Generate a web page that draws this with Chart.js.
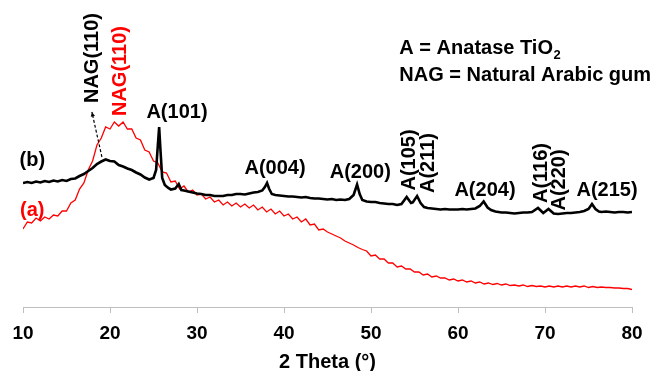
<!DOCTYPE html>
<html>
<head>
<meta charset="utf-8">
<script src="https://cdn.jsdelivr.net/npm/chart.js@4/dist/chart.umd.min.js"></script>
<style>
  body { margin: 0; background: #fff; }
  #wrap { width: 665px; height: 371px; position: relative; }
</style>
</head>
<body>
<div id="wrap"><canvas id="xrd-chart"></canvas></div>
<script>
// 2 Theta positions and intensities (a.u.)
// (b) NAG / TiO2 sample - black
const thetaB = [
  10, 10.5, 11, 11.5, 12, 12.5, 13, 13.5, 14, 14.5, 15, 15.5, 16, 16.5, 17, 17.5,
  18, 18.5, 19, 19.5, 20, 20.5, 21, 21.5, 22, 22.5, 23, 23.5, 24, 24.5, 25, 25.3,
  25.5, 25.65, 25.8, 26, 26.3, 26.7, 27, 27.5, 27.9, 28.2, 28.5, 29, 29.5, 30, 30.5,
  31, 31.5, 32, 32.5, 33, 33.5, 34, 34.5, 35, 35.5, 36, 36.5, 37, 37.5, 37.8, 38.05,
  38.3, 38.6, 39, 39.5, 40, 40.5, 41, 41.5, 42, 42.5, 43, 43.5, 44, 44.5, 45, 45.5,
  46, 46.5, 47, 47.5, 48, 48.4, 48.7, 49, 49.5, 50, 50.5, 51, 51.5, 52, 52.5, 53,
  53.5, 54.1, 54.6, 54.8, 55.3, 55.7, 56.1, 56.5, 57, 57.5, 58, 58.5, 59, 59.5, 60,
  60.5, 61, 61.5, 62, 62.5, 62.95, 63.4, 63.8, 64.3, 65, 65.5, 66, 66.5, 67, 67.5,
  68, 68.5, 69.2, 69.8, 70.4, 71, 71.5, 72, 72.5, 73, 73.5, 74, 74.5, 75, 75.4, 75.8,
  76.2, 76.5, 77, 77.5, 78, 78.5, 79, 79.5, 80
];
const intensityB = [
  124, 125, 124, 125.5, 124.5, 126, 125, 126.5, 125.5, 127, 126, 128, 128.5, 131, 133, 136,
  139, 143, 145.5, 147.5, 146, 145.5, 142, 140.5, 138.5, 137, 134.5, 132.5, 129.5, 127.5, 129, 137,
  162, 180, 157, 129, 122, 119, 117.5, 118.5, 123, 117, 116.5, 115.5, 114.5, 113.5, 113,
  112, 112, 111, 111, 111, 112, 112, 113, 113, 112.5, 113.5, 114.5, 115, 116.5, 120, 124,
  118, 113, 112, 111.5, 111, 110.5, 110.5, 110, 109.5, 110, 109, 108.5, 108.5, 108, 107.5, 108,
  107, 107.5, 107, 108, 112, 122.5, 113, 107, 105.5, 105, 105, 104, 103.5, 103, 103, 102,
  103, 110, 104, 104.5, 111, 104, 100, 99, 98.5, 98, 97.5, 98, 97.5, 97.5, 97.5,
  98, 97.5, 98, 98.5, 101, 105.5, 99.5, 97, 95.5, 94.5, 94.5, 94, 93.5, 94, 94.5,
  94.5, 95, 99, 94, 98, 93.5, 93, 93.5, 94, 94, 94.5, 95, 96, 98, 103, 98,
  95.5, 95, 95.5, 95, 94.5, 95, 95, 94.5, 95
];

// (a) natural Arabic gum - red
const thetaA = [
  10, 10.5, 11, 11.5, 12, 12.5, 13, 13.5, 14, 14.5, 15, 15.5, 16, 16.5, 17, 17.5,
  18, 18.5, 19, 19.5, 20, 20.5, 21, 21.5, 22, 22.5, 23, 23.5, 24, 24.5, 25, 25.5,
  26, 26.5, 27, 27.5, 28, 28.5, 29, 29.5, 30, 30.5, 31, 31.5, 32, 32.5, 33, 33.5,
  34, 34.5, 35, 35.5, 36, 36.5, 37, 37.5, 38, 38.5, 39, 39.5, 40, 40.5, 41, 41.5,
  42, 42.5, 43, 43.5, 44, 44.5, 45, 45.5, 46, 46.5, 47, 47.5, 48, 48.5, 49, 49.5,
  50, 50.5, 51, 51.5, 52, 52.5, 53, 53.5, 54, 54.5, 55, 55.5, 56, 56.5, 57, 57.5,
  58, 58.5, 59, 59.5, 60, 60.5, 61, 61.5, 62, 62.5, 63, 63.5, 64, 64.5, 65, 65.5,
  66, 66.5, 67, 67.5, 68, 68.5, 69, 69.5, 70, 70.5, 71, 71.5, 72, 72.5, 73, 73.5,
  74, 74.5, 75, 75.5, 76, 76.5, 77, 77.5, 78, 78.5, 79, 79.5, 80
];
const intensityA = [
  78, 85, 84, 89, 86, 90, 88, 92, 91, 96, 96, 104, 107, 118, 124, 137,
  146, 162, 169, 180, 178, 185, 181, 185, 178, 178, 169, 167, 157, 155, 146, 144,
  135, 134, 125, 126, 118, 121, 115, 117, 112, 113, 108, 110, 105, 107, 102, 105,
  101, 104, 100, 103, 99, 102, 97, 100, 95, 98, 93, 96, 91, 93, 88, 90,
  85, 88, 82, 83, 77, 78, 75, 73, 71, 69, 66, 64, 62, 59.5, 57.5, 56,
  51, 52, 48, 48, 44, 44, 40, 41, 38, 38, 35, 35, 32, 33, 30, 31,
  29, 29, 27, 28, 26, 27, 25, 26, 24, 25, 23, 24, 22.5, 23.5, 22, 23,
  21.5, 22, 21, 22, 20.5, 21.5, 20.5, 21, 20, 21, 20, 21, 20, 21, 20, 21,
  20, 21, 19.5, 20.5, 19.5, 20, 19.5, 19.5, 19, 19, 18.5, 18.5, 17.5
];

const xTicks = [10, 20, 30, 40, 50, 60, 70, 80];

// Peak labels: [text, 2theta, intensity, rotated, colour]
const peakLabels = [
  ["(b)", 11.07, 147, false, "#000"],
  ["(a)", 11.07, 97, false, "#ff0000"],
  ["A(101)", 27.7, 195, false, "#000"],
  ["A(004)", 38.97, 139, false, "#000"],
  ["A(200)", 48.77, 135, false, "#000"],
  ["A(105)", 54.28, 147, true, "#000"],
  ["A(211)", 56.52, 144, true, "#000"],
  ["A(204)", 63.1, 117, false, "#000"],
  ["A(116)", 69.47, 134, true, "#000"],
  ["A(220)", 71.54, 127, true, "#000"],
  ["A(215)", 77.13, 117, false, "#000"],
  ["NAG(110)", 17.83, 249, true, "#000"],
  ["NAG(110)", 21.07, 236, true, "#ff0000"]
];

// Plugin to draw the peak labels, the key text and the dashed arrow
const labelPlugin = {
  id: "labelPlugin",
  afterDatasetsDraw(chart) {
    const ctx = chart.ctx;
    const xs = chart.scales.x;
    const ys = chart.scales.y;
    ctx.save();
    ctx.font = "bold 20px 'Liberation Sans', Arial, sans-serif";
    ctx.textAlign = "center";
    ctx.textBaseline = "middle";
    peakLabels.forEach(function(lbl) {
      const px = xs.getPixelForValue(lbl[1]);
      const py = ys.getPixelForValue(lbl[2]);
      ctx.fillStyle = lbl[4];
      if (lbl[3]) {
        ctx.save();
        ctx.translate(px, py);
        ctx.rotate(-Math.PI / 2);
        ctx.fillText(lbl[0], 0, 1);
        ctx.restore();
      } else {
        ctx.fillText(lbl[0], px, py);
      }
    });

    // dashed arrow from the black hump up to its NAG(110) label
    const x1 = xs.getPixelForValue(19.07), y1 = ys.getPixelForValue(150);
    const x2 = xs.getPixelForValue(17.92), y2 = ys.getPixelForValue(195);
    ctx.strokeStyle = "#000";
    ctx.lineWidth = 1.2;
    ctx.setLineDash([3, 2]);
    ctx.beginPath();
    ctx.moveTo(x1, y1);
    ctx.lineTo(x2, y2);
    ctx.stroke();
    ctx.setLineDash([]);
    const ang = Math.atan2(y2 - y1, x2 - x1);
    ctx.fillStyle = "#000";
    ctx.beginPath();
    ctx.moveTo(x2, y2);
    ctx.lineTo(x2 - 5 * Math.cos(ang - 0.45), y2 - 5 * Math.sin(ang - 0.45));
    ctx.lineTo(x2 - 5 * Math.cos(ang + 0.45), y2 - 5 * Math.sin(ang + 0.45));
    ctx.closePath();
    ctx.fill();

    // key text
    ctx.textAlign = "left";
    ctx.fillStyle = "#000";
    const kx = xs.getPixelForValue(53.26);
    const k1 = ys.getPixelForValue(259);
    const k2 = ys.getPixelForValue(232);
    const first = "A = Anatase TiO";
    ctx.fillText(first, kx, k1);
    const w = ctx.measureText(first).width;
    ctx.font = "bold 13px 'Liberation Sans', Arial, sans-serif";
    ctx.fillText("2", kx + w + 0.5, k1 + 7);
    ctx.font = "bold 20px 'Liberation Sans', Arial, sans-serif";
    ctx.fillText("NAG = Natural Arabic gum", kx, k2);
    ctx.restore();
  }
};

const ctx = document.getElementById("xrd-chart").getContext("2d");
const chart = new Chart(ctx, {
  type: "line",
  data: {
    datasets: [
      {
        label: "(b)",
        data: thetaB.map((t, i) => ({ x: t, y: intensityB[i] })),
        borderColor: "#000000",
        borderWidth: 2.6,
        pointRadius: 0,
        tension: 0
      },
      {
        label: "(a)",
        data: thetaA.map((t, i) => ({ x: t, y: intensityA[i] })),
        borderColor: "#ff0000",
        borderWidth: 1.3,
        pointRadius: 0,
        tension: 0
      }
    ]
  },
  options: {
    responsive: true,
    maintainAspectRatio: false,
    animation: false,
    layout: { padding: { left: 23, right: 33, top: 10, bottom: 0 } },
    plugins: {
      legend: { display: false },
      tooltip: { enabled: false }
    },
    scales: {
      x: {
        type: "linear",
        min: 10,
        max: 80,
        afterBuildTicks: function(axis) {
          axis.ticks = xTicks.map(v => ({ value: v }));
        },
        ticks: {
          color: "#000",
          padding: 11,
          maxRotation: 0,
          font: { family: "'Liberation Sans', Arial, sans-serif", size: 19, weight: "bold", lineHeight: 1 }
        },
        grid: {
          drawOnChartArea: false,
          drawTicks: true,
          tickLength: 6,
          color: "#bfbfbf"
        },
        border: { color: "#bfbfbf", width: 1 },
        title: {
          display: true,
          text: "2 Theta (°)",
          color: "#000",
          padding: 0,
          font: { family: "'Liberation Sans', Arial, sans-serif", size: 20, weight: "bold", lineHeight: 0.85 }
        }
      },
      y: {
        display: false,
        min: 0,
        max: 297
      }
    }
  },
  plugins: [labelPlugin]
});
</script>
</body>
</html>
